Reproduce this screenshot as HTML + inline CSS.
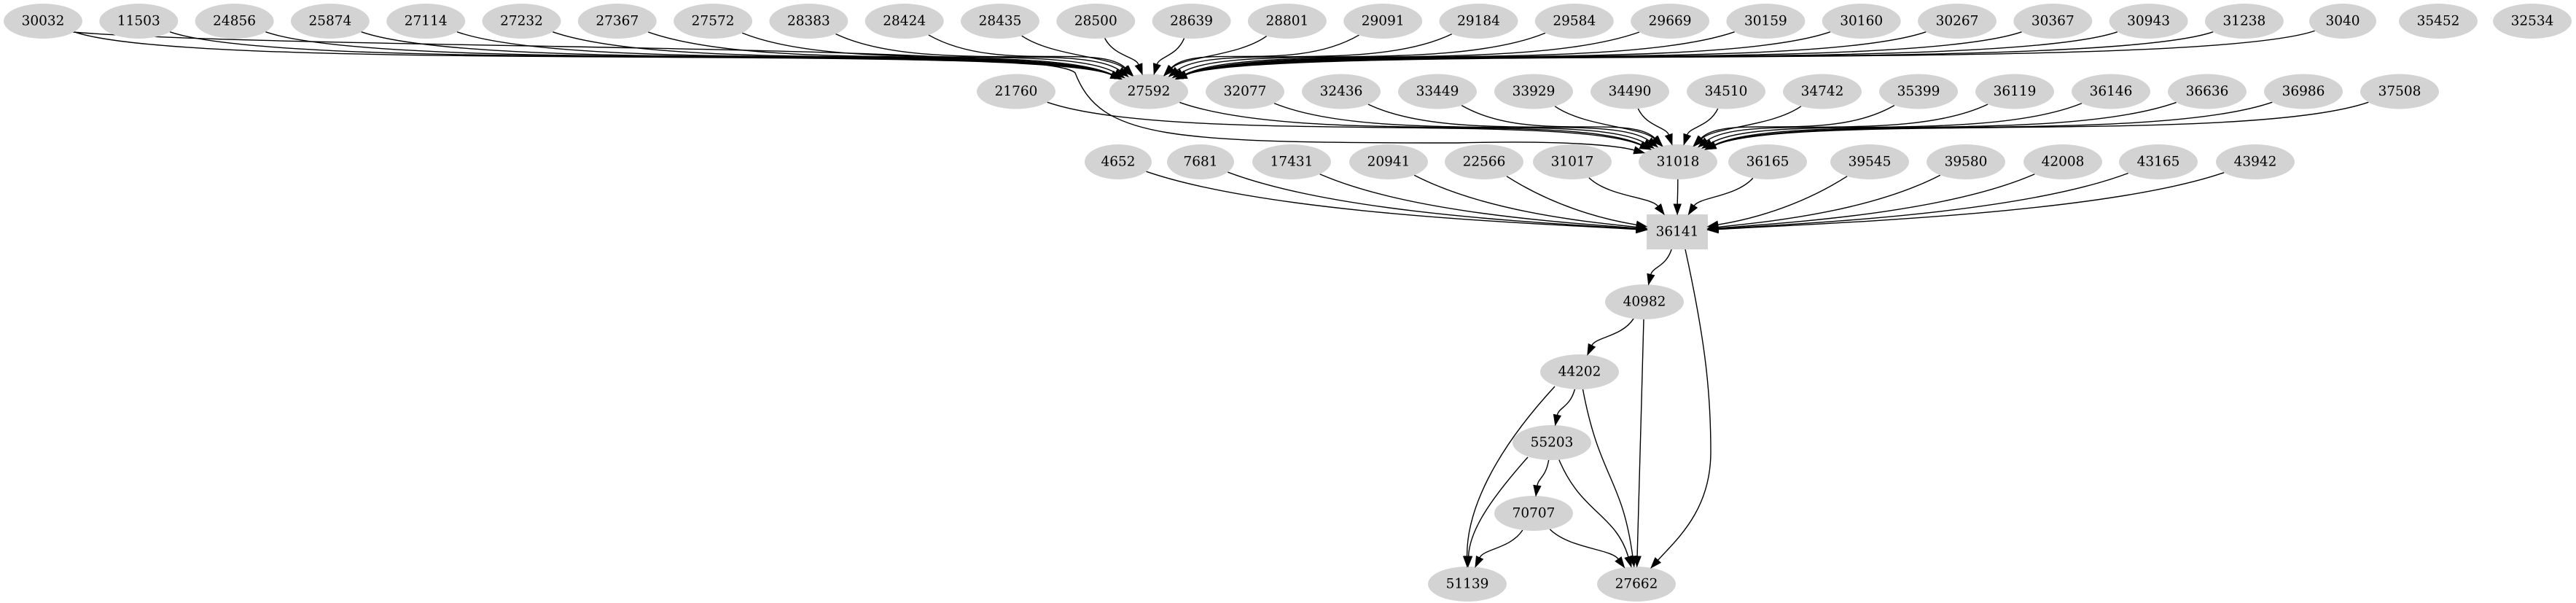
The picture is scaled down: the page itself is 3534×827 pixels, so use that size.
<!DOCTYPE html>
<html><head><meta charset="utf-8">
<style>
html,body{margin:0;padding:0;background:#fff;}
svg{display:block;}
text{font-family:"DejaVu Serif","Liberation Serif",serif;font-size:18.5px;fill:#000;text-anchor:middle;dominant-baseline:central;}
</style></head>
<body>
<svg id="g" xmlns="http://www.w3.org/2000/svg" width="3534" height="827" viewBox="0 0 3534 827">
<g id="edges" fill="none" stroke="#000" stroke-width="1.4"></g>
<g id="nodes" fill="#d3d3d3">
<ellipse cx="59" cy="29" rx="54" ry="24"/><text x="59" y="29">30032</text>
<ellipse cx="190.3" cy="29" rx="54" ry="24"/><text x="190.3" y="29">11503</text>
<ellipse cx="321.6" cy="29" rx="54" ry="24"/><text x="321.6" y="29">24856</text>
<ellipse cx="452.9" cy="29" rx="54" ry="24"/><text x="452.9" y="29">25874</text>
<ellipse cx="584.2" cy="29" rx="54" ry="24"/><text x="584.2" y="29">27114</text>
<ellipse cx="715.5" cy="29" rx="54" ry="24"/><text x="715.5" y="29">27232</text>
<ellipse cx="846.8" cy="29" rx="54" ry="24"/><text x="846.8" y="29">27367</text>
<ellipse cx="978.1" cy="29" rx="54" ry="24"/><text x="978.1" y="29">27572</text>
<ellipse cx="1109.4" cy="29" rx="54" ry="24"/><text x="1109.4" y="29">28383</text>
<ellipse cx="1240.7" cy="29" rx="54" ry="24"/><text x="1240.7" y="29">28424</text>
<ellipse cx="1372" cy="29" rx="54" ry="24"/><text x="1372" y="29">28435</text>
<ellipse cx="1503.3" cy="29" rx="54" ry="24"/><text x="1503.3" y="29">28500</text>
<ellipse cx="1634.6" cy="29" rx="54" ry="24"/><text x="1634.6" y="29">28639</text>
<ellipse cx="1765.9" cy="29" rx="54" ry="24"/><text x="1765.9" y="29">28801</text>
<ellipse cx="1897.2" cy="29" rx="54" ry="24"/><text x="1897.2" y="29">29091</text>
<ellipse cx="2028.5" cy="29" rx="54" ry="24"/><text x="2028.5" y="29">29184</text>
<ellipse cx="2159.8" cy="29" rx="54" ry="24"/><text x="2159.8" y="29">29584</text>
<ellipse cx="2291.1" cy="29" rx="54" ry="24"/><text x="2291.1" y="29">29669</text>
<ellipse cx="2422.4" cy="29" rx="54" ry="24"/><text x="2422.4" y="29">30159</text>
<ellipse cx="2553.7" cy="29" rx="54" ry="24"/><text x="2553.7" y="29">30160</text>
<ellipse cx="2685" cy="29" rx="54" ry="24"/><text x="2685" y="29">30267</text>
<ellipse cx="2816.3" cy="29" rx="54" ry="24"/><text x="2816.3" y="29">30367</text>
<ellipse cx="2947.6" cy="29" rx="54" ry="24"/><text x="2947.6" y="29">30943</text>
<ellipse cx="3078.9" cy="29" rx="54" ry="24"/><text x="3078.9" y="29">31238</text>
<ellipse cx="3214" cy="29" rx="46" ry="24"/><text x="3214" y="29">3040</text>
<ellipse cx="3345" cy="29" rx="54" ry="24"/><text x="3345" y="29">35452</text>
<ellipse cx="3474" cy="29" rx="54" ry="24"/><text x="3474" y="29">32534</text>

<ellipse cx="1394" cy="125.5" rx="54" ry="24"/><text x="1394" y="125.5">21760</text>
<ellipse cx="1576" cy="125.5" rx="54" ry="24"/><text x="1576" y="125.5">27592</text>
<ellipse cx="1708" cy="125.5" rx="54" ry="24"/><text x="1708" y="125.5">32077</text>
<ellipse cx="1840" cy="125.5" rx="54" ry="24"/><text x="1840" y="125.5">32436</text>
<ellipse cx="1972" cy="125.5" rx="54" ry="24"/><text x="1972" y="125.5">33449</text>
<ellipse cx="2104" cy="125.5" rx="54" ry="24"/><text x="2104" y="125.5">33929</text>
<ellipse cx="2236" cy="125.5" rx="54" ry="24"/><text x="2236" y="125.5">34490</text>
<ellipse cx="2368" cy="125.5" rx="54" ry="24"/><text x="2368" y="125.5">34510</text>
<ellipse cx="2500" cy="125.5" rx="54" ry="24"/><text x="2500" y="125.5">34742</text>
<ellipse cx="2632" cy="125.5" rx="54" ry="24"/><text x="2632" y="125.5">35399</text>
<ellipse cx="2764" cy="125.5" rx="54" ry="24"/><text x="2764" y="125.5">36119</text>
<ellipse cx="2896" cy="125.5" rx="54" ry="24"/><text x="2896" y="125.5">36146</text>
<ellipse cx="3028" cy="125.5" rx="54" ry="24"/><text x="3028" y="125.5">36636</text>
<ellipse cx="3160" cy="125.5" rx="54" ry="24"/><text x="3160" y="125.5">36986</text>
<ellipse cx="3292" cy="125.5" rx="54" ry="24"/><text x="3292" y="125.5">37508</text>

<ellipse cx="1534" cy="222" rx="46" ry="24"/><text x="1534" y="222">4652</text>
<ellipse cx="1647" cy="222" rx="46" ry="24"/><text x="1647" y="222">7681</text>
<ellipse cx="1772" cy="222" rx="54" ry="24"/><text x="1772" y="222">17431</text>
<ellipse cx="1905" cy="222" rx="54" ry="24"/><text x="1905" y="222">20941</text>
<ellipse cx="2036" cy="222" rx="54" ry="24"/><text x="2036" y="222">22566</text>
<ellipse cx="2157" cy="222" rx="54" ry="24"/><text x="2157" y="222">31017</text>
<ellipse cx="2302" cy="222" rx="54" ry="24"/><text x="2302" y="222">31018</text>
<ellipse cx="2425" cy="222" rx="54" ry="24"/><text x="2425" y="222">36165</text>
<ellipse cx="2565" cy="222" rx="54" ry="24"/><text x="2565" y="222">39545</text>
<ellipse cx="2697" cy="222" rx="54" ry="24"/><text x="2697" y="222">39580</text>
<ellipse cx="2830" cy="222" rx="54" ry="24"/><text x="2830" y="222">42008</text>
<ellipse cx="2961" cy="222" rx="54" ry="24"/><text x="2961" y="222">43165</text>
<ellipse cx="3094" cy="222" rx="54" ry="24"/><text x="3094" y="222">43942</text>

<rect x="2259" y="294" width="84" height="48"/><text x="2301" y="318">36141</text>
<ellipse cx="2256" cy="414" rx="54" ry="24"/><text x="2256" y="414">40982</text>
<ellipse cx="2167" cy="510" rx="54" ry="24"/><text x="2167" y="510">44202</text>
<ellipse cx="2129" cy="607" rx="54" ry="24"/><text x="2129" y="607">55203</text>
<ellipse cx="2104" cy="704" rx="54" ry="24"/><text x="2104" y="704">70707</text>
<ellipse cx="2013" cy="801" rx="54" ry="24"/><text x="2013" y="801">51139</text>
<ellipse cx="2245" cy="801" rx="54" ry="24"/><text x="2245" y="801">27662</text>
</g>
<g id="arrows" fill="#000" stroke="#000" stroke-width="1"></g>
</svg>
<script>
(function(){
var NS="http://www.w3.org/2000/svg";
var N={};
var els=document.querySelectorAll('#nodes ellipse, #nodes rect');
var txts=document.querySelectorAll('#nodes text');
for(var i=0;i<els.length;i++){
  var e=els[i],t=txts[i],n;
  if(e.tagName=='rect'){n={x:+e.getAttribute('x')+42,y:+e.getAttribute('y')+24,rx:42,ry:24,box:1};}
  else n={x:+e.getAttribute('cx'),y:+e.getAttribute('cy'),rx:+e.getAttribute('rx'),ry:+e.getAttribute('ry')};
  N[t.textContent]=n;
}
function bnd(n,px,py){
  var dx=px-n.x,dy=py-n.y,L=Math.hypot(dx,dy)||1,ux=dx/L,uy=dy/L,t;
  if(n.box){t=Math.min(Math.abs(n.rx/(ux||1e-9)),Math.abs(n.ry/(uy||1e-9)));}
  else t=1/Math.sqrt((ux/n.rx)*(ux/n.rx)+(uy/n.ry)*(uy/n.ry));
  return [n.x+ux*t,n.y+uy*t];
}
var EG=document.getElementById('edges'),AG=document.getElementById('arrows');
function draw(pts,tn){
  var last=pts[pts.length-1];
  var E=bnd(tn,last[0],last[1]);
  var dx=E[0]-last[0],dy=E[1]-last[1],L=Math.hypot(dx,dy)||1,ux=dx/L,uy=dy/L;
  var B=[E[0]-ux*14,E[1]-uy*14];
  var d='M'+pts[0][0]+','+pts[0][1]+' C';
  var rest=pts.slice(1).concat([B]);
  for(var i=0;i<rest.length;i++)d+=' '+rest[i][0].toFixed(1)+','+rest[i][1].toFixed(1);
  var p=document.createElementNS(NS,'path');p.setAttribute('d',d);EG.appendChild(p);
  var a=document.createElementNS(NS,'polygon');
  a.setAttribute('points',E[0]+','+E[1]+' '+(B[0]-uy*5)+','+(B[1]+ux*5)+' '+(B[0]+uy*5)+','+(B[1]-ux*5));
  AG.appendChild(a);
}
function edge(s,t){
  var a=N[s],b=N[t];
  var dx=b.x-a.x,dy=b.y-a.y,sg=dx<0?-1:1,ad=Math.abs(dx);
  var P1,P2;
  if(ad>250){
    var k=Math.min(ad*0.2,150);
    P1=[a.x+sg*(k+60),a.y+dy*0.75];
    P2=b.box?[b.x-sg*k*1.3,b.y-12]:[b.x-sg*k,b.y-dy*0.7];
  } else {
    P1=[a.x+dx*0.35,a.y+dy*0.5];
    P2=[b.x-dx*0.25,b.y-dy*0.5];
  }
  var S=bnd(a,P1[0],P1[1]);
  draw([S,P1,P2],b);
}
var top=['30032','11503','24856','25874','27114','27232','27367','27572','28383','28424','28435','28500','28639','28801','29091','29184','29584','29669','30159','30160','30267','30367','30943','31238','3040'];
top.forEach(function(s){edge(s,'27592');});
draw([[100,44],[400,68],[1440,60],[1475,100],[1510,190],[1600,196],[2000,196],[2150,192],[2220,200]],N['31018']);
['27592','21760','32077','32436','33449','33929','34490','34510','34742','35399','36119','36146','36636','36986','37508'].forEach(function(s){edge(s,'31018');});
['4652','7681','17431','20941','22566','31017','31018','36165','39545','39580','42008','43165','43942'].forEach(function(s){edge(s,'36141');});
edge('36141','40982');edge('40982','44202');edge('44202','55203');edge('55203','70707');
edge('70707','51139');edge('70707','27662');edge('55203','27662');edge('44202','27662');
draw([[2255,438],[2252,550],[2248,700]],N['27662']);
draw([[2312,342],[2340,470],[2347,540],[2347,620],[2347,700],[2300,740]],N['27662']);
draw([[2133,530],[2050,620],[2012,700]],N['51139']);
draw([[2096,627],[2040,690],[2016,730]],N['51139']);
})();
</script>
</body></html>
